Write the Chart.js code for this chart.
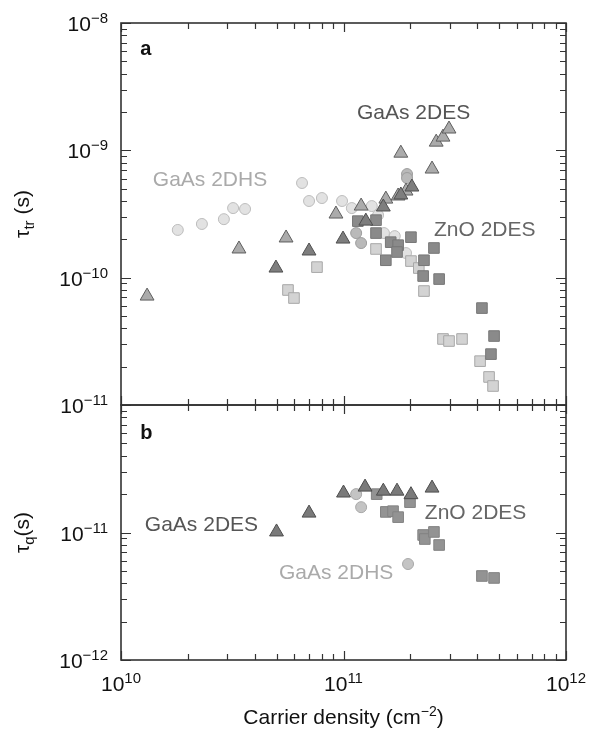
<!DOCTYPE html>
<html>
<head>
<meta charset="utf-8">
<script src="https://cdn.jsdelivr.net/npm/chart.js@4/dist/chart.umd.min.js"></script>
<style>
  body { margin: 0; background: #fff; }
  #wrap { position: relative; width: 596px; height: 729px; }
  #wrap canvas { position: absolute; left: 0; top: 0; }
</style>
</head>
<body>
<div id="wrap">
  <canvas id="chart-tr" width="596" height="729"></canvas>
  <canvas id="chart-q" width="596" height="729"></canvas>
</div>
<script>
// transport lifetime tau_tr, [density cm^-2, seconds]
const trHoles = [[1.80e10, 2.37e-10], [2.31e10, 2.64e-10], [2.90e10, 2.88e-10], [3.19e10, 3.52e-10],
  [3.61e10, 3.46e-10], [6.51e10, 5.54e-10], [7.0e10, 4.0e-10], [8.0e10, 4.22e-10], [9.85e10, 4.0e-10],
  [1.09e11, 3.52e-10], [1.34e11, 3.65e-10], [1.43e11, 3.10e-10], [1.52e11, 2.24e-10], [1.70e11, 2.12e-10],
  [1.91e11, 1.56e-10]];
const trHolesDark = [[1.14e11, 2.24e-10], [1.20e11, 1.87e-10], [1.93e11, 6.51e-10], [1.93e11, 6.06e-10]];
const trGaAs = [[1.31e10, 7.17e-11], [3.39e10, 1.68e-10], [5.52e10, 2.05e-10], [9.25e10, 3.16e-10],
  [1.20e11, 3.65e-10], [1.55e11, 4.14e-10], [1.76e11, 4.38e-10], [1.91e11, 4.79e-10], [1.81e11, 9.5e-10],
  [2.50e11, 7.13e-10], [2.61e11, 1.16e-9], [2.80e11, 1.27e-9], [2.98e11, 1.47e-9]];
const trGaAsDark = [[4.97e10, 1.19e-10], [7.0e10, 1.62e-10], [9.95e10, 2.01e-10], [1.26e11, 2.78e-10],
  [1.51e11, 3.59e-10], [1.81e11, 4.46e-10], [2.03e11, 5.15e-10]];
const trZnO = [[1.16e11, 2.78e-10], [1.40e11, 2.83e-10], [1.40e11, 2.24e-10], [1.63e11, 1.90e-10],
  [1.76e11, 1.80e-10], [1.74e11, 1.59e-10], [2.01e11, 2.08e-10], [2.55e11, 1.71e-10], [1.55e11, 1.37e-10],
  [2.30e11, 1.37e-10], [2.28e11, 1.03e-10], [2.69e11, 9.75e-11], [4.19e11, 5.77e-11], [4.75e11, 3.48e-11],
  [4.60e11, 2.51e-11]];
const trZnOLight = [[5.63e10, 8.0e-11], [5.99e10, 6.92e-11], [7.60e10, 1.21e-10], [1.40e11, 1.68e-10],
  [2.01e11, 1.35e-10], [2.18e11, 1.19e-10], [2.30e11, 7.85e-11], [2.80e11, 3.30e-11], [2.98e11, 3.18e-11],
  [3.41e11, 3.30e-11], [4.11e11, 2.21e-11], [4.51e11, 1.66e-11], [4.70e11, 1.41e-11]];

// quantum lifetime tau_q
const qGaAs = [[5.0e10, 1.01e-11], [7.0e10, 1.42e-11], [1.0e11, 2.04e-11], [1.25e11, 2.27e-11],
  [1.51e11, 2.11e-11], [1.74e11, 2.11e-11], [2.01e11, 1.98e-11], [2.50e11, 2.23e-11]];
const qHoles = [[1.14e11, 2.0e-11], [1.20e11, 1.58e-11], [1.95e11, 5.66e-12]];
const qZnO = [[1.41e11, 2.0e-11], [1.99e11, 1.73e-11], [1.55e11, 1.45e-11], [1.67e11, 1.47e-11],
  [1.76e11, 1.32e-11], [2.28e11, 9.56e-12], [2.32e11, 8.89e-12], [2.55e11, 1.01e-11], [2.69e11, 7.98e-12],
  [4.19e11, 4.56e-12], [4.75e11, 4.40e-12]];

const densityTicks = [1e10, 1e11, 1e12];
const tauTrTicks = [1e-8, 1e-9, 1e-10, 1e-11];
const tauQTicks = [1e-11, 1e-12];

const FONT = '"Liberation Sans", Arial, sans-serif';

function series(points, style, fill, edge, r) {
  return {
    data: points.map(p => ({ x: p[0], y: p[1] })),
    pointStyle: style,
    pointRadius: r,
    pointHoverRadius: r,
    backgroundColor: fill,
    borderColor: edge,
    borderWidth: 1,
    showLine: false
  };
}

// "10" with a raised exponent
function drawPower(ctx, v, x, y, align) {
  const sup = String(Math.round(Math.log10(v))).replace('-', '\u2212');
  ctx.font = '21px ' + FONT;
  const wb = ctx.measureText('10').width;
  ctx.font = '15px ' + FONT;
  const ws = ctx.measureText(sup).width;
  const left = align === 'right' ? x - wb - ws : x - (wb + ws) / 2;
  ctx.textAlign = 'left';
  ctx.textBaseline = 'alphabetic';
  ctx.font = '21px ' + FONT;
  ctx.fillText('10', left, y + 8);
  ctx.font = '15px ' + FONT;
  ctx.fillText(sup, left + wb, y);
}

// pieces: [text, fontSize, baselineShift]
function drawPieces(ctx, pieces, x, y, align) {
  let total = 0;
  pieces.forEach(p => { ctx.font = p[1] + 'px ' + FONT; total += ctx.measureText(p[0]).width; });
  let cx = align === 'center' ? x - total / 2 : x;
  ctx.textAlign = 'left';
  ctx.textBaseline = 'alphabetic';
  pieces.forEach(p => {
    ctx.font = p[1] + 'px ' + FONT;
    ctx.fillText(p[0], cx, y + p[2]);
    cx += ctx.measureText(p[0]).width;
  });
}

const framePlugin = {
  id: 'frame',
  afterDraw(chart, args, opts) {
    const { ctx, chartArea: a } = chart;
    const x = chart.scales.x, y = chart.scales.y;
    ctx.save();
    ctx.strokeStyle = '#333';
    ctx.lineWidth = 1.2;
    ctx.beginPath();
    // inward log ticks on all four sides
    for (let d = Math.round(Math.log10(x.min)); d < Math.round(Math.log10(x.max)); d++) {
      for (let m = 1; m <= 10; m++) {
        const px = Math.round(x.getPixelForValue(m * Math.pow(10, d))) + 0.5;
        const len = (m === 1 || m === 10) ? 9 : 6;
        ctx.moveTo(px, a.bottom); ctx.lineTo(px, a.bottom - len);
        ctx.moveTo(px, a.top); ctx.lineTo(px, a.top + len);
      }
    }
    for (let d = Math.round(Math.log10(y.min)); d < Math.round(Math.log10(y.max)); d++) {
      for (let m = 1; m <= 10; m++) {
        const py = Math.round(y.getPixelForValue(m * Math.pow(10, d))) + 0.5;
        const len = (m === 1 || m === 10) ? 10 : 6;
        ctx.moveTo(a.left, py); ctx.lineTo(a.left + len, py);
        ctx.moveTo(a.right, py); ctx.lineTo(a.right - len, py);
      }
    }
    ctx.stroke();
    ctx.lineWidth = 1.6;
    ctx.strokeRect(a.left, a.top, a.right - a.left, a.bottom - a.top);

    ctx.fillStyle = '#111';
    opts.yTicks.forEach(v => drawPower(ctx, v, a.left - 13, y.getPixelForValue(v), 'right'));
    opts.xTicks.forEach(v => drawPower(ctx, v, x.getPixelForValue(v), a.bottom + 23, 'center'));

    opts.notes.forEach(n => {
      ctx.fillStyle = n.color;
      ctx.font = (n.bold ? 'bold ' : '') + n.size + 'px ' + FONT;
      ctx.textAlign = 'left';
      ctx.textBaseline = 'middle';
      ctx.fillText(n.text, x.getPixelForValue(n.x), y.getPixelForValue(n.y));
    });

    // rotated y title
    ctx.fillStyle = '#111';
    ctx.save();
    ctx.translate(29, (a.top + a.bottom) / 2);
    ctx.rotate(-Math.PI / 2);
    drawPieces(ctx, [['\u03c4', 21, 0], [opts.sub, 15, 5], [opts.unit, 21, 0]], 0, 0, 'center');
    ctx.restore();

    if (opts.xTitle) {
      drawPieces(ctx, [['Carrier density (cm', 21, 0], ['\u22122', 14, -8], [')', 21, 0]],
        (a.left + a.right) / 2, a.bottom + 64, 'center');
    }
    ctx.restore();
  }
};

function makeChart(id, datasets, yMin, yMax, pad, frame) {
  return new Chart(document.getElementById(id), {
    type: 'scatter',
    data: { datasets: datasets },
    options: {
      responsive: false,
      animation: false,
      events: [],
      layout: { padding: pad },
      scales: {
        x: { type: 'logarithmic', min: 1e10, max: 1e12, display: false },
        y: { type: 'logarithmic', min: yMin, max: yMax, display: false }
      },
      plugins: { legend: { display: false }, tooltip: { enabled: false }, frame: frame }
    },
    plugins: [framePlugin]
  });
}

makeChart('chart-tr', [
  series(trGaAsDark, 'triangle', '#7e7e7e', '#4f4f4f', 8),
  series(trGaAs, 'triangle', '#ababab', '#5e5e5e', 8),
  series(trZnO, 'rect', '#8a8a8a', '#777', 7.5),
  series(trZnOLight, 'rect', '#d3d3d3', '#a8a8a8', 7.5),
  series(trHolesDark, 'circle', '#b9b9b9', '#9c9c9c', 5.5),
  series(trHoles, 'circle', '#e2e2e2', '#bdbdbd', 5.5)
], 1e-11, 1e-8, { left: 121, right: 30, top: 23, bottom: 324 }, {
  yTicks: tauTrTicks, xTicks: [], sub: 'tr', unit: ' (s)', xTitle: false,
  notes: [
    { text: 'a', x: 1.22e10, y: 6.25e-9, color: '#111', size: 20, bold: true },
    { text: 'GaAs 2DHS', x: 1.39e10, y: 5.85e-10, color: '#aaa', size: 21 },
    { text: 'GaAs 2DES', x: 1.15e11, y: 1.96e-9, color: '#555', size: 21 },
    { text: 'ZnO 2DES', x: 2.55e11, y: 2.37e-10, color: '#666', size: 21 }
  ]
});

makeChart('chart-q', [
  series(qGaAs, 'triangle', '#7a7a7a', '#4d4d4d', 8),
  series(qZnO, 'rect', '#939393', '#828282', 7.5),
  series(qHoles, 'circle', '#c4c4c4', '#a8a8a8', 5.5)
], 1e-12, 1e-10, { left: 121, right: 30, top: 405, bottom: 69 }, {
  yTicks: tauQTicks, xTicks: densityTicks, sub: 'q', unit: '(s)', xTitle: true,
  notes: [
    { text: 'b', x: 1.22e10, y: 6.03e-11, color: '#111', size: 20, bold: true },
    { text: 'GaAs 2DES', x: 1.28e10, y: 1.15e-11, color: '#555', size: 21 },
    { text: 'ZnO 2DES', x: 2.32e11, y: 1.42e-11, color: '#666', size: 21 },
    { text: 'GaAs 2DHS', x: 5.13e10, y: 4.81e-12, color: '#aaa', size: 21 }
  ]
});
</script>
</body>
</html>
